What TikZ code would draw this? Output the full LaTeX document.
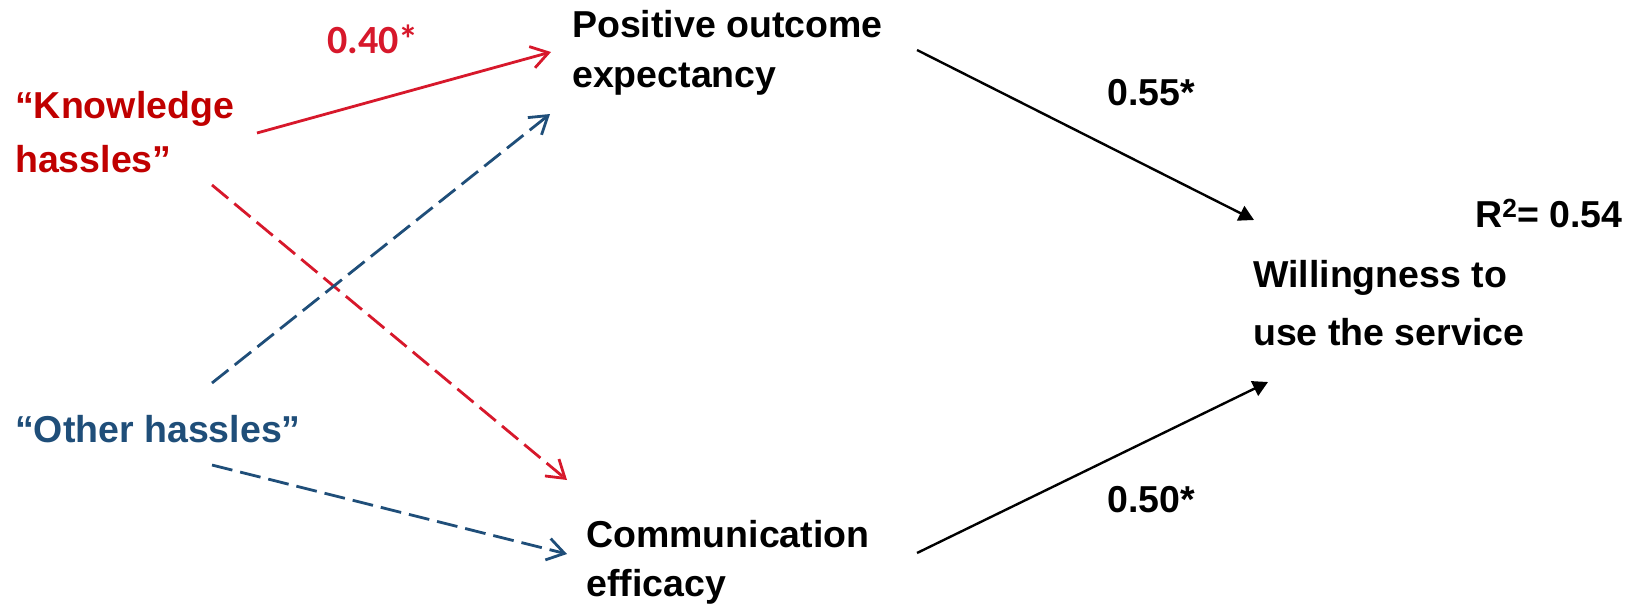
\documentclass[tikz,border=0pt]{standalone}
\usepackage{fontspec}
\setmainfont{Liberation Sans}
\newfontfamily\calibfont{Carlito}[UprightFont={* Bold}]
\usetikzlibrary{arrows.meta}
\definecolor{hassred}{HTML}{C00000}
\definecolor{linkred}{HTML}{D7182B}
\definecolor{hassblue}{HTML}{1F4E79}
\tikzset{
  label text/.style={inner sep=0pt, anchor=base west, align=left,
    font=\fontsize{37.5}{50}\selectfont\bfseries},
  redlink/.style={linkred, line width=2.8pt,
    -{Straight Barb[length=17pt,width=22pt]}},
  bluelink/.style={hassblue, line width=2.8pt, dash pattern=on 21pt off 8pt,
    -{Straight Barb[length=17pt,width=22pt]}},
  blacklink/.style={black, line width=2.4pt,
    -{Triangle[length=15pt,width=16pt]}},
}
\begin{document}
\begin{tikzpicture}[x=1pt,y=-1pt]
\useasboundingbox (0,0) rectangle (1633,603);

% constructs (multi-line nodes are placed by the baseline of their last line)
\node[label text, text=hassred, font=\fontsize{37.5}{54}\selectfont\bfseries]
  (know) at (15,172) {“Knowledge\\hassles”};
\node[label text, text=hassblue] (other) at (15,442) {“Other hassles”};
\node[label text] (pos) at (572,87) {Positive outcome\\expectancy};
\node[label text, font=\fontsize{37.5}{49}\selectfont\bfseries]
  (comm) at (586,596) {Communication\\efficacy};
\node[label text, font=\fontsize{37.5}{58}\selectfont\bfseries]
  (will) at (1253,345) {Willingness to\\use the service};
\node[label text] (rsq) at (1475,227) {R\textsuperscript{2}= 0.54};

% path coefficients
\node[label text, text=linkred, font=\fontsize{40}{46}\selectfont\calibfont]
  (c1) at (327,53) {0.40*};
\node[label text] (c2) at (1107,105) {0.55*};
\node[label text] (c3) at (1107,512) {0.50*};

% connector end points
\coordinate (know-out1) at (257,133);
\coordinate (know-out2) at (212,185);
\coordinate (other-out1) at (212,383);
\coordinate (other-out2) at (212,465);
\coordinate (pos-in1) at (551,52);
\coordinate (pos-in2) at (550,114);
\coordinate (comm-in1) at (567,480);
\coordinate (comm-in2) at (567,554);
\coordinate (pos-out) at (917,50);
\coordinate (comm-out) at (917,553);
\coordinate (will-in1) at (1254,220);
\coordinate (will-in2) at (1268,382);

% paths
\draw[redlink] (know-out1) -- (pos-in1);
\draw[redlink, dash pattern=on 21pt off 8pt] (know-out2) -- (comm-in1);
\draw[bluelink] (other-out1) -- (pos-in2);
\draw[bluelink] (other-out2) -- (comm-in2);
\draw[blacklink] (pos-out) -- (will-in1);
\draw[blacklink] (comm-out) -- (will-in2);
\end{tikzpicture}
\end{document}
